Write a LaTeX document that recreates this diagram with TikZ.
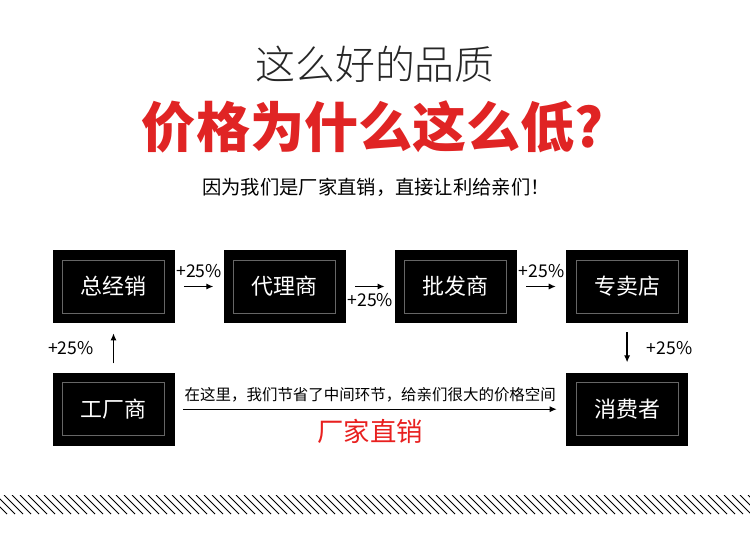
\documentclass[tikz,border=0pt]{standalone}
\usepackage{fontspec}
\setmainfont{Noto Sans CJK SC}
\newfontfamily\thinfont{Noto Sans CJK SC Light}
\usetikzlibrary{arrows.meta,positioning}
\definecolor{titlered}{HTML}{E02424}
\definecolor{salered}{HTML}{E8201F}

\begin{document}
\begin{tikzpicture}[node distance=0.98cm and 0.97cm,>={Latex[length=4pt,width=3.5pt]},
  stage/.style={fill=black,text=white,minimum width=2.44cm,minimum height=1.46cm,inner sep=0pt,
    font=\fontsize{12.5}{15}\selectfont,
    path picture={\draw[black!60,line width=0.5pt]
      ([shift={(0.2,0.2)}]path picture bounding box.south west) rectangle
      ([shift={(-0.2,-0.2)}]path picture bounding box.north east);}},
  pct/.style={font=\fontsize{10}{12}\selectfont,inner sep=1pt},
  link/.style={->,line width=0.7pt,shorten <=0.18cm,shorten >=0.2cm}]
\useasboundingbox (0,0) rectangle (15,-10.7);
% heading
\node[font=\thinfont\fontsize{22.7}{27}\selectfont,text=black!85] (head) at (7.5,-1.28) {这么好的品质};
\node[font=\bfseries\fontsize{30.8}{36}\selectfont,text=titlered] (ask) at (7.46,-2.54) {价格为什么这么低?};
\node[font=\fontsize{11}{13}\selectfont] (why) at (7.52,-3.74) {因为我们是厂家直销，直接让利给亲们！};
% chain
\node[stage] (dist) at (2.27,-5.73) {总经销};
\node[stage,right=of dist] (agent) {代理商};
\node[stage,right=of agent] (whole) {批发商};
\node[stage,right=of whole] (shop) {专卖店};
\node[stage,below=of dist] (factory) {工厂商};
\node[stage,below=of shop] (buyer) {消费者};
\draw[link] (dist) -- node[pct,above=0.12cm]{+25\%} (agent);
\draw[link] (agent) -- node[pct,below=0.1cm]{+25\%} (whole);
\draw[link] (whole) -- node[pct,above=0.12cm]{+25\%} (shop);
\draw[link] (factory) -- node[pct,left=0.35cm]{+25\%} (dist);
\draw[link] (shop) -- node[pct,right=0.35cm]{+25\%} (buyer);
\draw[link,shorten <=0.16cm,shorten >=0.18cm] (factory) --
  node[above=0.1cm,font=\fontsize{8.8}{11}\selectfont,inner sep=1pt]{在这里，我们节省了中间环节，给亲们很大的价格空间}
  node[below=0.15cm,font=\fontsize{15}{18}\selectfont,text=salered,inner sep=1pt]{厂家直销} (buyer);
% stripes
\begin{scope}
\clip (0,-9.9) rectangle (15,-10.28);
\foreach \i in {0,...,97} \draw[line width=0.5pt] (\i*0.16-0.4,-9.9) -- ++(0.38,-0.38);
\end{scope}
\end{tikzpicture}
\end{document}
